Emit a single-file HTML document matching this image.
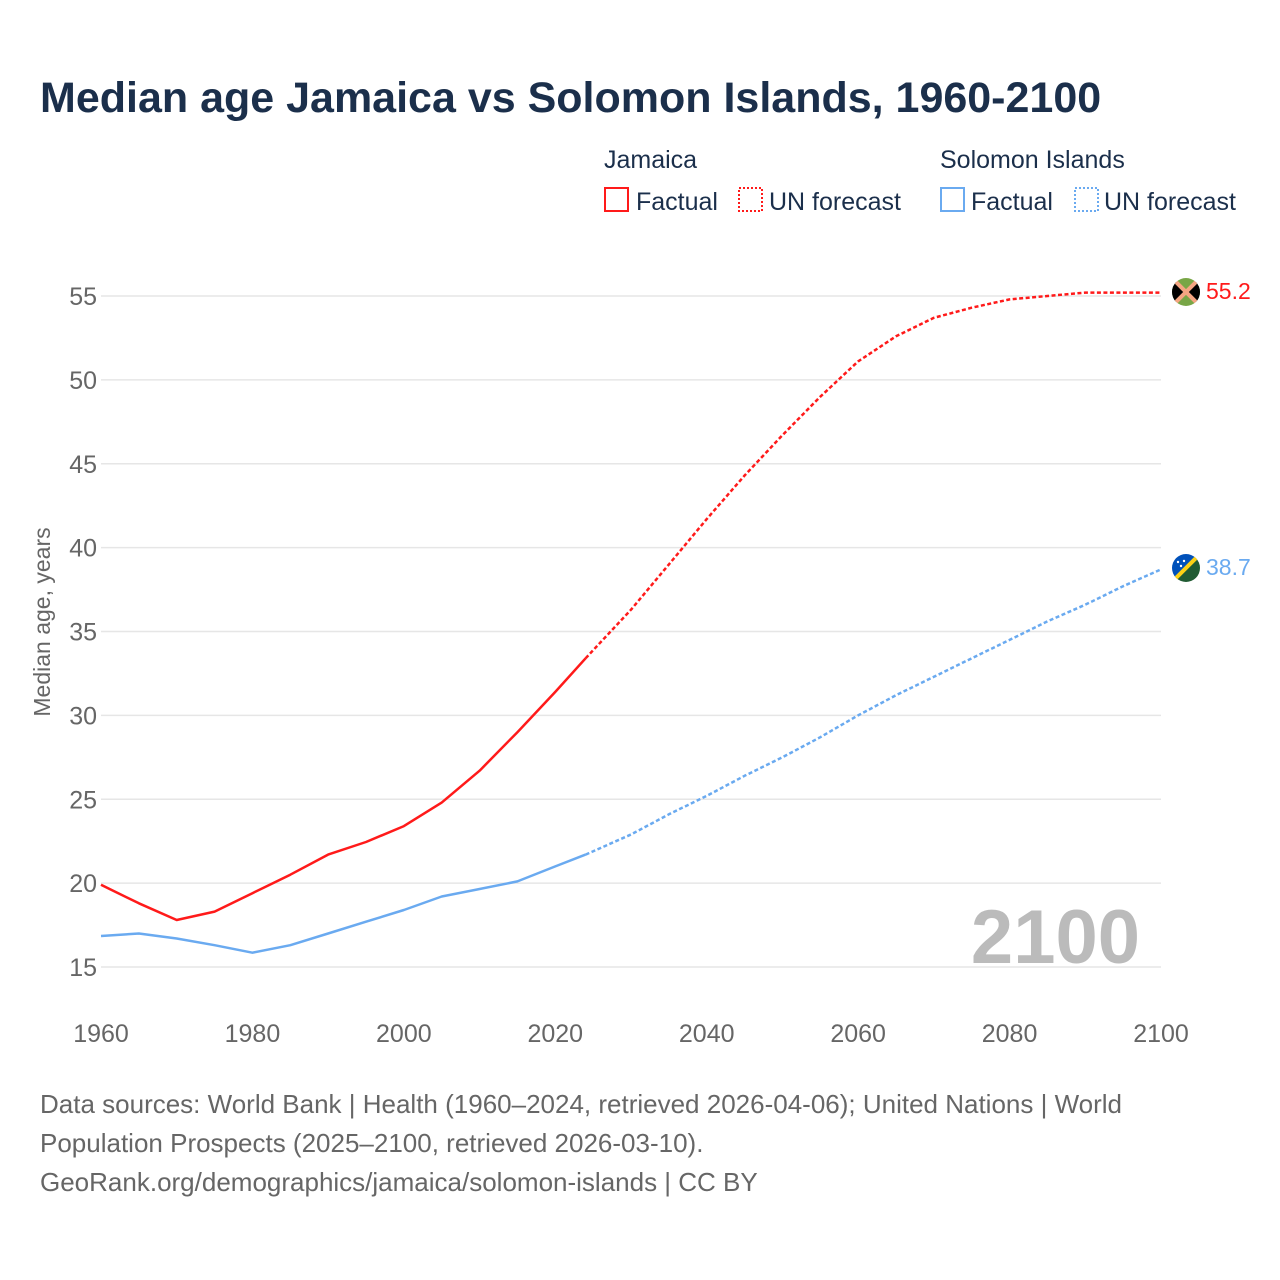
<!DOCTYPE html>
<html><head><meta charset="utf-8"><style>
body{margin:0;background:#fff;font-family:"Liberation Sans",sans-serif;}
#wrap{position:relative;width:1280px;height:1280px;overflow:hidden;background:#fff}
</style></head><body>
<div id="wrap">
<svg id="chart" width="1280" height="1280" xmlns="http://www.w3.org/2000/svg">
<text x="40" y="112" font-size="43" font-weight="bold" fill="#1b2f4b">Median age Jamaica vs Solomon Islands, 1960-2100</text>
<g font-size="25" fill="#1b2f4b">
<text x="604" y="168">Jamaica</text>
<text x="940" y="168">Solomon Islands</text>
<g><rect x="605" y="188" width="23" height="23" fill="none" stroke="#ff1a1a" stroke-width="2"/><text x="636" y="210">Factual</text></g>
<g><rect x="739" y="188" width="23" height="23" fill="none" stroke="#ff1a1a" stroke-width="2" stroke-dasharray="2,2"/><text x="769" y="210">UN forecast</text></g>
<g><rect x="941" y="188" width="23" height="23" fill="none" stroke="#6aaaf0" stroke-width="2"/><text x="971" y="210">Factual</text></g>
<g><rect x="1075" y="188" width="23" height="23" fill="none" stroke="#6aaaf0" stroke-width="2" stroke-dasharray="2,2"/><text x="1104" y="210">UN forecast</text></g>
</g>
<g id="grid"></g>
<g id="yticks" font-size="25" fill="#666"></g>
<g id="xticks" font-size="25" fill="#666"></g>
<text transform="translate(50,622) rotate(-90)" text-anchor="middle" font-size="23" fill="#666">Median age, years</text>
<text x="1140" y="963" text-anchor="end" font-size="76" font-weight="bold" fill="#bbb">2100</text>
<g id="series"></g>
<g>
<clipPath id="cj"><circle cx="1186" cy="292" r="14"/></clipPath>
<g clip-path="url(#cj)"><rect x="1170" y="276" width="32" height="32" fill="#78a646"/><polygon points="1172,278 1186,292 1172,306" fill="#000"/><polygon points="1200,278 1186,292 1200,306" fill="#000"/><line x1="1172" y1="278" x2="1200" y2="306" stroke="#f4a582" stroke-width="4"/><line x1="1200" y1="278" x2="1172" y2="306" stroke="#f4a582" stroke-width="4"/></g>
</g>
<g>
<clipPath id="cs"><circle cx="1186" cy="568" r="14"/></clipPath>
<g clip-path="url(#cs)"><polygon points="1172,554 1200,554 1172,582" fill="#0051ba"/><polygon points="1200,554 1200,582 1172,582" fill="#215b33"/><line x1="1200" y1="554" x2="1172" y2="582" stroke="#fcd116" stroke-width="4"/><circle cx="1178" cy="562" r="1.2" fill="#fff"/><circle cx="1184" cy="561" r="1.2" fill="#fff"/><circle cx="1181" cy="566" r="1.2" fill="#fff"/></g>
</g>
<text x="1206" y="299" font-size="23" fill="#ff1a1a">55.2</text>
<text x="1206" y="575" font-size="23" fill="#6aaaf0">38.7</text>
<g font-size="26" fill="#666">
<text x="40" y="1113">Data sources: World Bank | Health (1960–2024, retrieved 2026-04-06); United Nations | World</text>
<text x="40" y="1152">Population Prospects (2025–2100, retrieved 2026-03-10).</text>
<text x="40" y="1191">GeoRank.org/demographics/jamaica/solomon-islands | CC BY</text>
</g>
</svg>
</div>
<script>
const yearsFact=[1960,1965,1970,1975,1980,1985,1990,1995,2000,2005,2010,2015,2020,2024];
const jamFact=[19.9,18.8,17.8,18.3,19.4,20.5,21.7,22.45,23.4,24.8,26.7,29.0,31.4,33.4];
const solFact=[16.85,17.0,16.7,16.3,15.85,16.3,17.0,17.7,18.4,19.2,19.65,20.1,21.0,21.7];
const yearsFc=[2024,2030,2035,2040,2045,2050,2055,2060,2065,2070,2075,2080,2085,2090,2095,2100];
const jamFc=[33.4,36.3,39.0,41.7,44.3,46.7,49.0,51.1,52.6,53.7,54.3,54.8,55.0,55.2,55.2,55.2];
const solFc=[21.7,22.9,24.1,25.2,26.4,27.5,28.7,30.0,31.2,32.3,33.4,34.5,35.6,36.6,37.7,38.7];
const yTicks=[15,20,25,30,35,40,45,50,55];
const xTicks=[1960,1980,2000,2020,2040,2060,2080,2100];
const NS="http://www.w3.org/2000/svg";
const xS=y=>101+(y-1960)*(1060/140);
const yS=v=>967-(v-15)*(671/40);
function mk(tag,attrs,parent){const e=document.createElementNS(NS,tag);for(const k in attrs)e.setAttribute(k,attrs[k]);parent.appendChild(e);return e;}
const grid=document.getElementById('grid'),yt=document.getElementById('yticks'),xt=document.getElementById('xticks'),ser=document.getElementById('series');
yTicks.forEach(v=>{
 const l=mk('line',{x1:101,x2:1161,y1:yS(v),y2:yS(v),stroke:'#e6e6e6','stroke-width':1.5},grid);
 
 
 const t=mk('text',{x:97,y:yS(v)+9,'text-anchor':'end'},yt);t.textContent=v;
 
 
});
xTicks.forEach(y=>{
 const t=mk('text',{x:xS(y),y:1042,'text-anchor':'middle'},xt);t.textContent=y;
 
 
});
function line(xs,vs,color,dash,name){
 const d=xs.map((x,i)=>(i?'L':'M')+xS(x).toFixed(1)+','+yS(vs[i]).toFixed(1)).join(' ');
 const p=mk('path',{d:d,fill:'none',stroke:color,'stroke-width':2.5,'stroke-linejoin':'round'},ser);
 if(dash)p.setAttribute('stroke-dasharray','4,2.5');
 
 
}
line(yearsFact,solFact,'#6aaaf0',false,'line-solomon-factual');
line(yearsFc,solFc,'#6aaaf0',true,'line-solomon-forecast');
line(yearsFact,jamFact,'#ff1a1a',false,'line-jamaica-factual');
line(yearsFc,jamFc,'#ff1a1a',true,'line-jamaica-forecast');
</script>
</body></html>
